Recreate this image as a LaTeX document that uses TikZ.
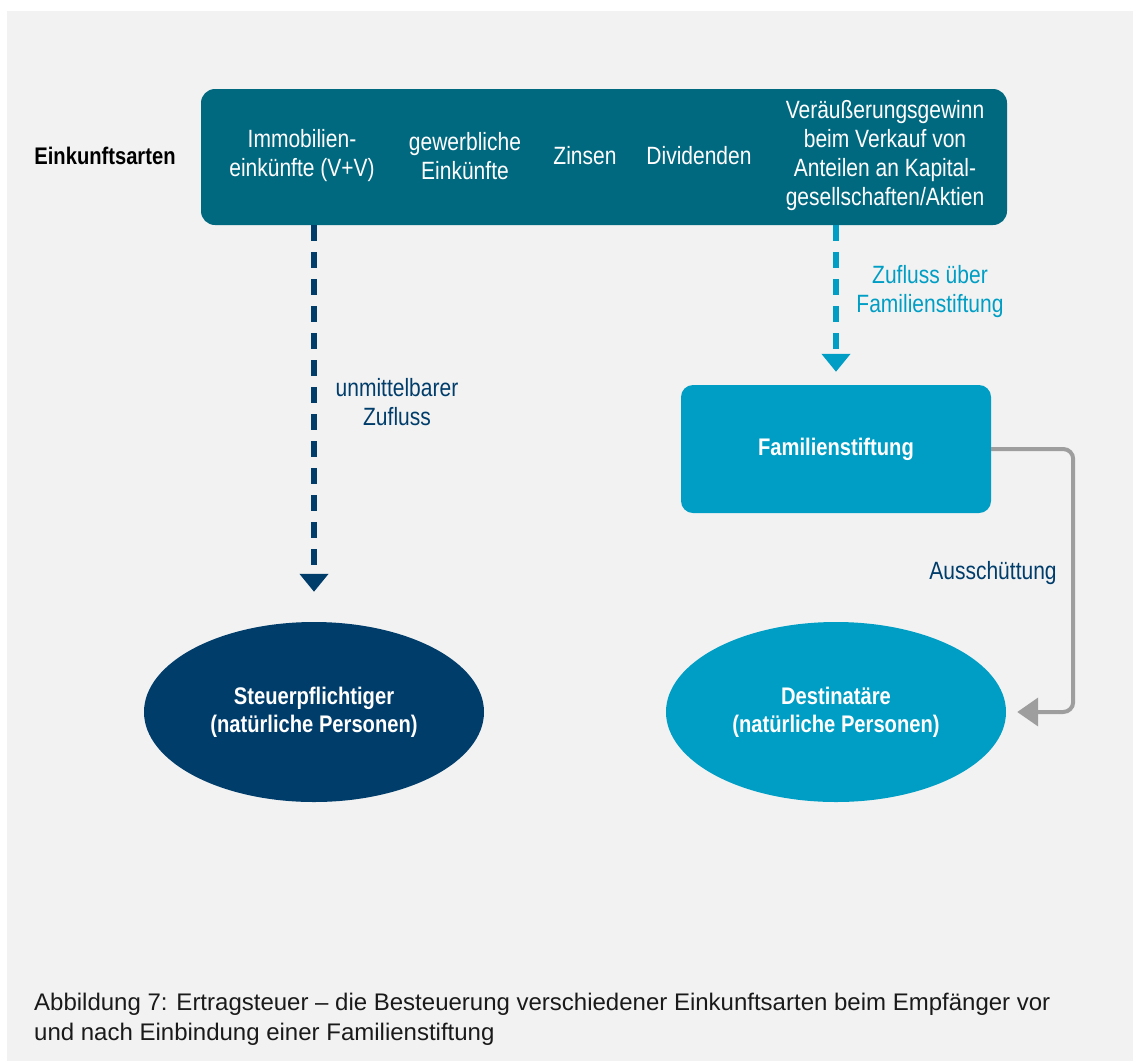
\documentclass[tikz,border=0pt]{standalone}
\usepackage{fontspec}
\setmainfont{Liberation Sans}
\newfontfamily\cond[FakeStretch=0.84]{Liberation Sans}
\usetikzlibrary{shapes.geometric,arrows.meta}
\definecolor{bg}{HTML}{F2F2F2}
\definecolor{teal}{HTML}{006980}
\definecolor{dblue}{HTML}{003D6B}
\definecolor{lblue}{HTML}{009EC4}
\definecolor{grayline}{HTML}{9E9E9E}
\definecolor{captxt}{HTML}{1A1A1A}
\tikzset{
  txt/.style={font=\cond\fontsize{25}{29}\selectfont, align=center, inner sep=0pt},
  wtxt/.style={txt, text=white},
  btxt/.style={txt, font=\cond\bfseries\fontsize{24}{29}\selectfont},
  ell/.style={ellipse, minimum width=340pt, minimum height=180pt, inner sep=0pt, text=white, font=\cond\bfseries\fontsize{24}{28}\selectfont, align=center},
  dasharrow/.style={line width=6pt, dash pattern=on 16pt off 11pt, -{Triangle[width=28pt,length=18pt]}},
}
\begin{document}
\begin{tikzpicture}[x=1pt,y=-1pt]
\useasboundingbox (0,0) rectangle (1133,1061);
\fill[white] (0,0) rectangle (1133,1061);
\fill[bg] (7,11) rectangle (1133,1061);

\node[btxt, text=black] (lab) at (105,156) {Einkunftsarten};
\node[fill=teal, rounded corners=14pt, minimum width=806pt, minimum height=136pt, inner sep=0pt] (top) at (604,157) {};
\node[wtxt] (t1) at (302,156) {Immobilien-\\einkünfte (V+V)};
\node[wtxt] (t2) at (465,156) {gewerbliche\\Einkünfte};
\node[wtxt] (t3) at (585,156) {Zinsen};
\node[wtxt] (t4) at (699,156) {Dividenden};
\node[wtxt] (t5) at (885,156) {Veräußerungsgewinn\\beim Verkauf von\\Anteilen an Kapital-\\gesellschaften/Aktien};

\node[ell, fill=dblue] (steu) at (314,712) {Steuerpflichtiger\\(natürliche Personen)};
\node[ell, fill=lblue] (dest) at (836,712) {Destinatäre\\(natürliche Personen)};
\node[fill=lblue, rounded corners=12pt, minimum width=310pt, minimum height=128pt, inner sep=0pt, text=white, font=\cond\bfseries\fontsize{24}{29}\selectfont] (fam) at (836,449) {Familienstiftung};

\draw[dasharrow, dblue, shorten >=30pt] (steu.north |- top.south) -- (steu.north);
\draw[dasharrow, lblue, shorten >=13pt] (fam.north |- top.south) -- (fam.north);
\draw[grayline, line width=4pt, rounded corners=10pt, -{Triangle[width=28pt,length=21pt]}] (fam.east) -- ++(82,0) |- ([xshift=11pt]dest.east);

\node[txt, text=dblue] (l1) at (397,402) {unmittelbarer\\Zufluss};
\node[txt, text=lblue] (l2) at (930,292) {Zufluss über\\Familienstiftung};
\node[txt, text=dblue] (l3) at (993,573) {Ausschüttung};

\node[anchor=west, align=left, inner sep=0pt, text=captxt, font=\fontsize{24}{30}\selectfont] (cap) at (34,1019) {Abbildung 7: Ertragsteuer – die Besteuerung verschiedener Einkunftsarten beim Empfänger vor\\und nach Einbindung einer Familienstiftung};
\end{tikzpicture}
\end{document}
